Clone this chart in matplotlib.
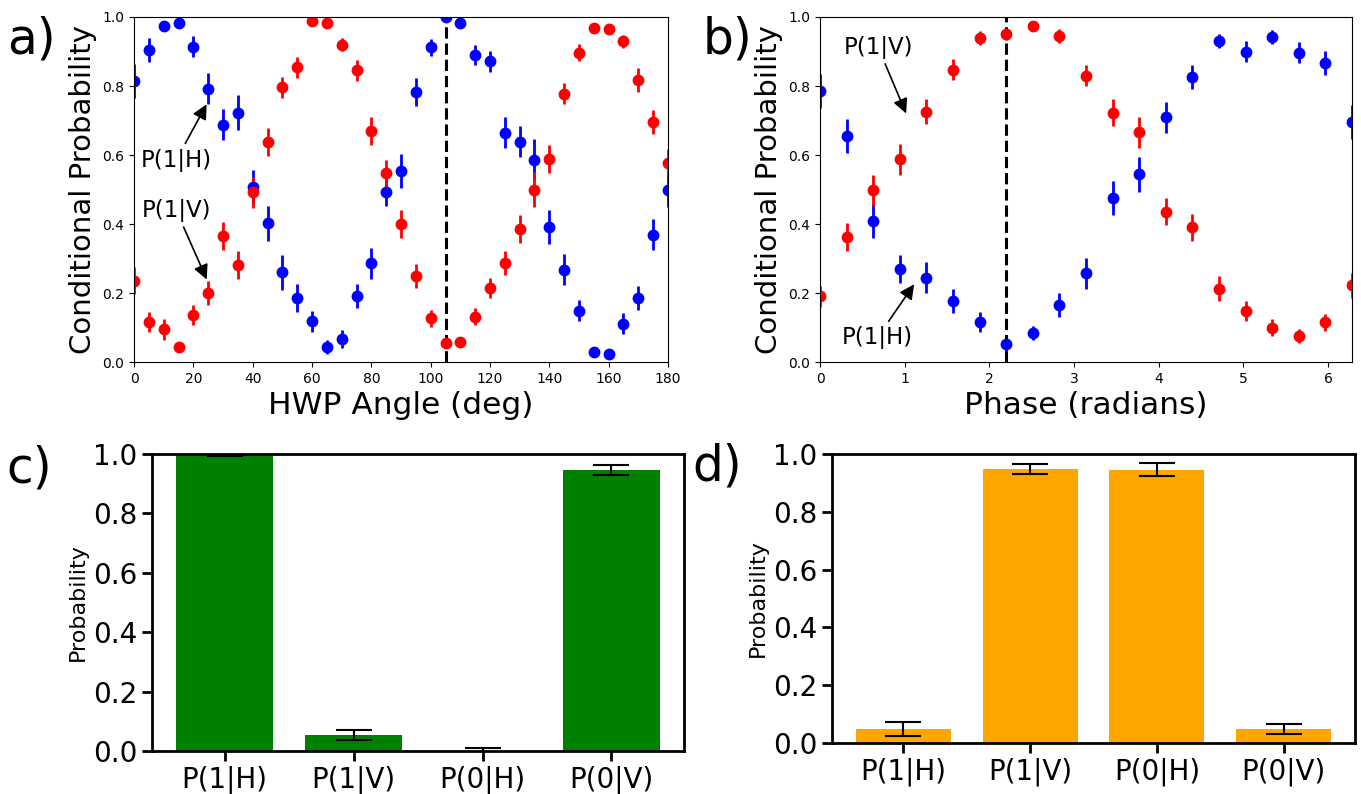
import numpy as np
import matplotlib.pyplot as plt

# panel a: HWP angle scan
hwp_deg = np.arange(0, 181, 5)
a_h = [0.814, 0.904, 0.975, 0.982, 0.914, 0.792, 0.688, 0.723, 0.508, 0.402,
       0.260, 0.186, 0.118, 0.043, 0.067, 0.191, 0.286, 0.492, 0.553, 0.783,
       0.912, 1.0, 0.982, 0.890, 0.872, 0.665, 0.638, 0.587, 0.392, 0.267,
       0.149, 0.029, 0.022, 0.111, 0.186, 0.369, 0.500]
a_h_err = [0.05, 0.035, 0.01, 0.01, 0.03, 0.045, 0.045, 0.05, 0.05, 0.05,
           0.05, 0.04, 0.03, 0.02, 0.025, 0.035, 0.045, 0.04, 0.05, 0.04,
           0.025, 0.01, 0.01, 0.03, 0.03, 0.045, 0.045, 0.06, 0.05, 0.045,
           0.03, 0.01, 0.01, 0.03, 0.035, 0.045, 0.05]
a_v = [0.236, 0.116, 0.095, 0.044, 0.136, 0.199, 0.366, 0.281, 0.492, 0.637,
       0.796, 0.854, 0.988, 0.984, 0.920, 0.845, 0.670, 0.547, 0.400, 0.249,
       0.127, 0.054, 0.058, 0.131, 0.215, 0.288, 0.386, 0.500, 0.588, 0.778,
       0.897, 0.967, 0.964, 0.929, 0.818, 0.696, 0.578]
a_v_err = [0.04, 0.03, 0.03, 0.01, 0.03, 0.035, 0.04, 0.04, 0.045, 0.04,
           0.03, 0.03, 0.01, 0.01, 0.02, 0.03, 0.04, 0.04, 0.04, 0.035,
           0.025, 0.01, 0.01, 0.025, 0.03, 0.035, 0.04, 0.05, 0.04, 0.03,
           0.025, 0.01, 0.01, 0.02, 0.035, 0.035, 0.04]

# panel b: phase scan
phase = np.arange(21) * np.pi / 10
b_h = [0.786, 0.655, 0.410, 0.269, 0.245, 0.176, 0.116, 0.051, 0.085, 0.165,
       0.257, 0.476, 0.544, 0.710, 0.827, 0.931, 0.899, 0.943, 0.897, 0.866, 0.695]
b_h_err = [0.05, 0.05, 0.05, 0.04, 0.045, 0.035, 0.03, 0.02, 0.02, 0.035,
           0.045, 0.05, 0.05, 0.045, 0.035, 0.02, 0.03, 0.02, 0.03, 0.035, 0.05]
b_v = [0.191, 0.362, 0.498, 0.588, 0.726, 0.847, 0.940, 0.952, 0.973, 0.945,
       0.830, 0.723, 0.666, 0.436, 0.390, 0.213, 0.148, 0.100, 0.075, 0.115, 0.222]
b_v_err = [0.03, 0.04, 0.045, 0.045, 0.035, 0.03, 0.02, 0.02, 0.01, 0.02,
           0.03, 0.04, 0.045, 0.04, 0.04, 0.035, 0.03, 0.025, 0.02, 0.025, 0.035]

# panels c, d: bars
bar_labels = ['P(1|H)', 'P(1|V)', 'P(0|H)', 'P(0|V)']
c_vals = [1.0, 0.054, 0.0, 0.946]
c_err = [0.006, 0.018, 0.009, 0.018]
d_vals = [0.049, 0.948, 0.946, 0.049]
d_err = [0.023, 0.018, 0.023, 0.018]

fig = plt.figure(figsize=(13.61, 7.94), dpi=100)
ax_a = fig.add_axes([0.0985, 0.544, 0.3923, 0.4346])
ax_b = fig.add_axes([0.6025, 0.544, 0.3909, 0.4346])
ax_c = fig.add_axes([0.1117, 0.0542, 0.3909, 0.374])
ax_d = fig.add_axes([0.6113, 0.0642, 0.3843, 0.364])

eb = dict(fmt='o', markersize=7.5, elinewidth=2, capsize=0)
arrow = dict(arrowstyle='-|>', color='black', lw=1.2, mutation_scale=22)

# a
ax_a.errorbar(hwp_deg, a_h, yerr=a_h_err, color='blue', **eb)
ax_a.errorbar(hwp_deg, a_v, yerr=a_v_err, color='red', **eb)
ax_a.axvline(105, color='black', ls='--', lw=2.2)
ax_a.set_xlim(0, 180)
ax_a.set_ylim(0, 1)
ax_a.tick_params(labelsize=10)
ax_a.set_xlabel('HWP Angle (deg)', fontsize=22.5)
ax_a.set_ylabel('Conditional Probability', fontsize=21)
ax_a.annotate('P(1|H)', xy=(24.9, 0.754), xytext=(14.2, 0.585), fontsize=16.5,
              ha='center', va='center', arrowprops=arrow)
ax_a.annotate('P(1|V)', xy=(24.9, 0.232), xytext=(14.2, 0.44), fontsize=16.5,
              ha='center', va='center', arrowprops=arrow)

# b
ax_b.errorbar(phase, b_h, yerr=b_h_err, color='blue', **eb)
ax_b.errorbar(phase, b_v, yerr=b_v_err, color='red', **eb)
ax_b.axvline(0.7 * np.pi, color='black', ls='--', lw=2.2)
ax_b.set_xlim(0, 2 * np.pi)
ax_b.set_ylim(0, 1)
ax_b.tick_params(labelsize=10)
ax_b.set_xlabel('Phase (radians)', fontsize=22.5)
ax_b.set_ylabel('Conditional Probability', fontsize=21)
ax_b.annotate('P(1|V)', xy=(1.03, 0.713), xytext=(0.685, 0.913), fontsize=16.5,
              ha='center', va='center', arrowprops=arrow)
ax_b.annotate('P(1|H)', xy=(1.13, 0.232), xytext=(0.675, 0.07), fontsize=16.5,
              ha='center', va='center', arrowprops=arrow)

# c, d
for ax, vals, err, col in [(ax_c, c_vals, c_err, 'green'), (ax_d, d_vals, d_err, 'orange')]:
    x = np.arange(len(bar_labels))
    ax.bar(x, vals, width=0.75, color=col, yerr=err, capsize=13,
           error_kw=dict(elinewidth=1.5, capthick=1.5, ecolor='black'))
    ax.set_xticks(x)
    ax.set_xticklabels(bar_labels)
    ax.set_ylim(0, 1)
    ax.set_ylabel('Probability', fontsize=16)
    ax.tick_params(labelsize=20, width=2, length=7)
    for s in ax.spines.values():
        s.set_linewidth(2)

fig.text(0.005, 0.95, 'a)', fontsize=35, va='center')
fig.text(0.516, 0.95, 'b)', fontsize=35, va='center')
fig.text(0.005, 0.41, 'c)', fontsize=35, va='center')
fig.text(0.509, 0.413, 'd)', fontsize=35, va='center')

fig.savefig('out.png', dpi=100)
